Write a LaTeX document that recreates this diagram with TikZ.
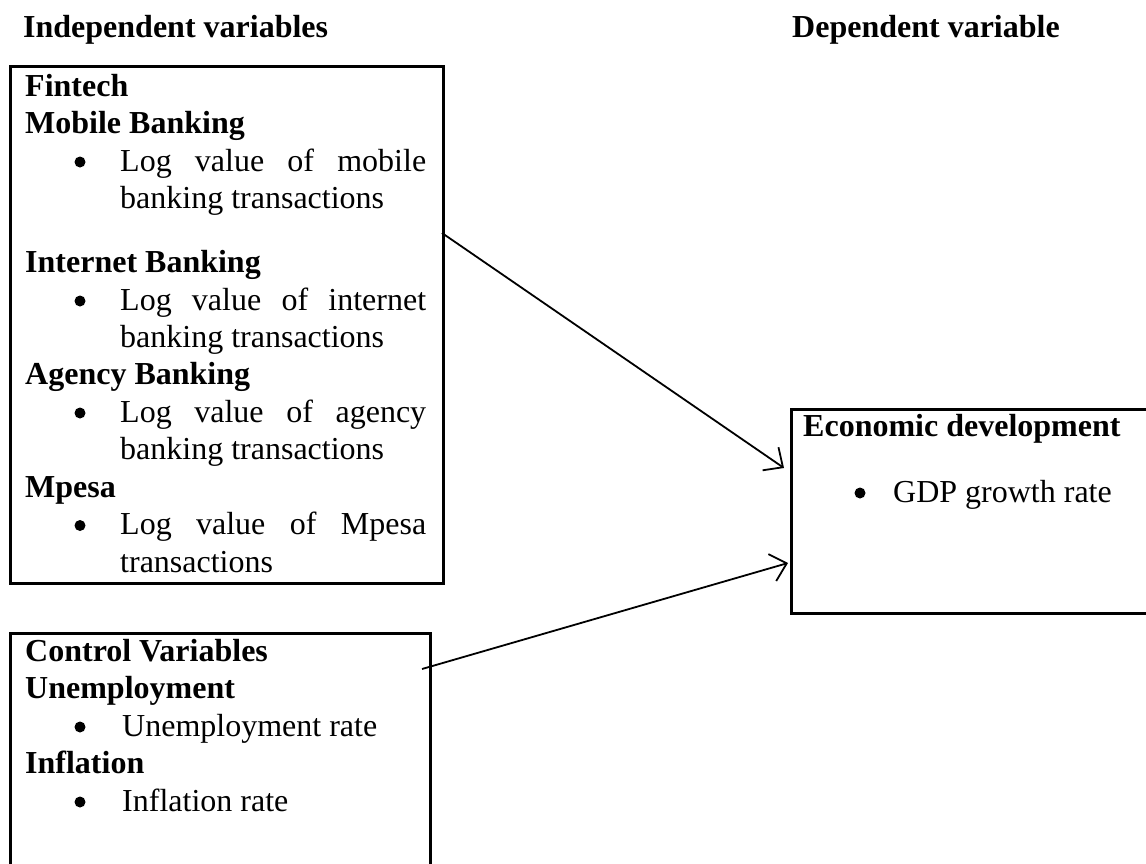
\documentclass[tikz,border=0pt]{standalone}
\usepackage{fontspec}
\setmainfont{Liberation Serif}
\usetikzlibrary{arrows.meta}
\begin{document}
\begin{tikzpicture}[x=1pt,y=-1pt,
  box/.style={draw, line width=2.6pt, inner sep=0pt, anchor=north west},
  txt/.style={anchor=base west, inner sep=0pt, font=\fontsize{32}{38}\selectfont},
  hd/.style={anchor=base west, inner sep=0pt, font=\fontsize{32}{38}\selectfont\bfseries},
  bul/.style={circle, fill, draw=none, inner sep=0pt, minimum size=11pt},
  arr/.style={-{Straight Barb[length=15pt,width=28pt,line width=1.8pt]}, line width=1.8pt}]
\clip (0,0) rectangle (1146,863);
\fill[white] (0,0) rectangle (1146,863);

% headers
\node[hd] (hindep) at (23,37) {Independent variables};
\node[hd] (hdep) at (792,37) {Dependent variable};

% boxes
\node[box, minimum width=433pt, minimum height=517pt] (box1) at (9,65) {};
\node[box, minimum width=420pt, minimum height=260pt] (box2) at (9,632) {};
\node[box, minimum width=380pt, minimum height=204pt] (box3) at (790,408) {};

% box 1 text
\node[hd] (f1) at (25,96) {Fintech};
\node[hd] (f2) at (25,133.5) {Mobile Banking};
\node[bul] (b1) at (80,162) {};
\node[txt] (f3) at (120,171) {\makebox[306pt][s]{Log value of mobile}};
\node[txt] (f4) at (120,208.5) {banking transactions};
\node[hd] (f5) at (25,272) {Internet Banking};
\node[bul] (b2) at (80,301) {};
\node[txt] (f6) at (120,310) {\makebox[306pt][s]{Log value of internet}};
\node[txt] (f7) at (120,347) {banking transactions};
\node[hd] (f8) at (25,384.5) {Agency Banking};
\node[bul] (b3) at (80,413) {};
\node[txt] (f9) at (120,422) {\makebox[306pt][s]{Log value of agency}};
\node[txt] (f10) at (120,459.5) {banking transactions};
\node[hd] (f11) at (25,497) {Mpesa};
\node[bul] (b4) at (80,525.5) {};
\node[txt] (f12) at (120,534.5) {\makebox[306pt][s]{Log value of Mpesa}};
\node[txt] (f13) at (120,572) {transactions};

% box 2 text
\node[hd] (c1) at (25,661) {Control Variables};
\node[hd] (c2) at (25,698.5) {Unemployment};
\node[bul] (b5) at (80,727) {};
\node[txt] (c3) at (122,736) {Unemployment rate};
\node[hd] (c4) at (25,773.5) {Inflation};
\node[bul] (b6) at (80,802) {};
\node[txt] (c5) at (122,811) {Inflation rate};

% box 3 text
\node[hd] (e1) at (803,436) {Economic development};
\node[bul] (b7) at (860,493) {};
\node[txt] (e2) at (893,502) {GDP growth rate};

% arrows
\coordinate (a1s) at (442,233);
\coordinate (a1e) at (784,468);
\coordinate (a2s) at (422,669);
\coordinate (a2e) at (788,563);
\draw[arr] (a1s) -- (a1e);
\draw[arr] (a2s) -- (a2e);
\end{tikzpicture}
\end{document}
